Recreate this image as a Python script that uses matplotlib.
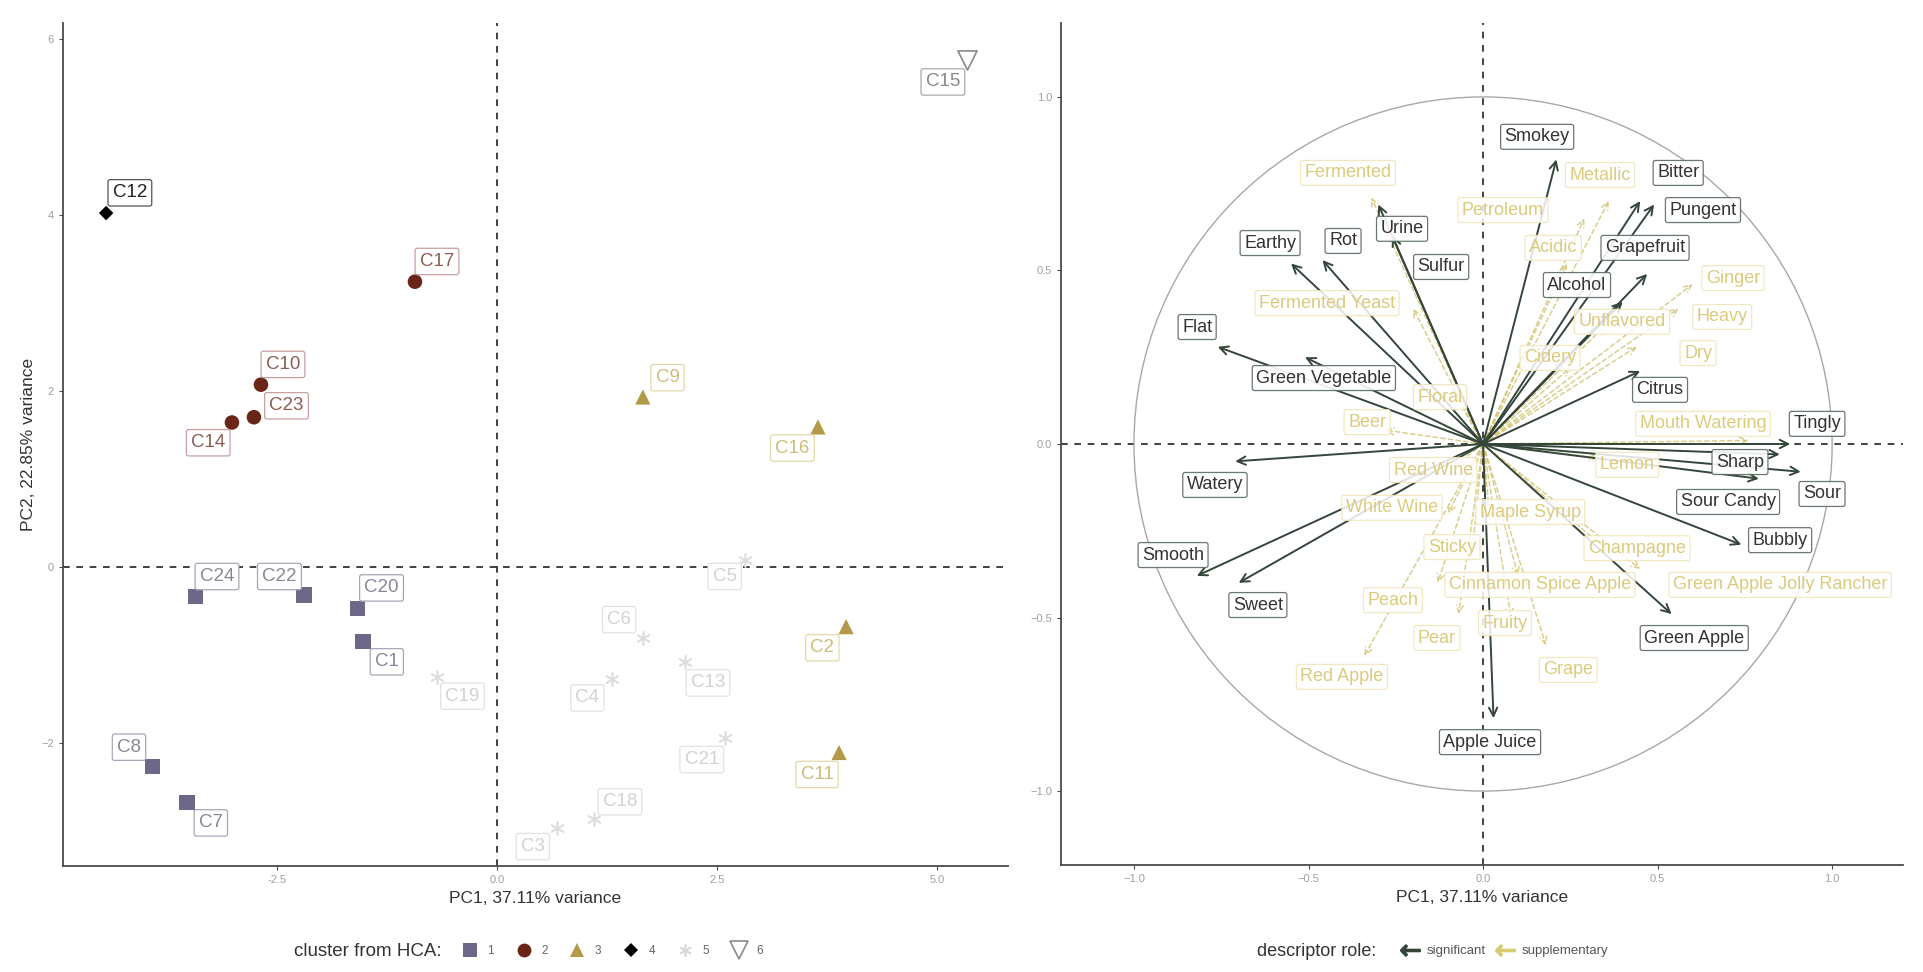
import matplotlib.pyplot as plt
import numpy as np
from matplotlib.lines import Line2D
from matplotlib.patches import Circle

plt.rcParams['font.family'] = ['Liberation Sans', 'DejaVu Sans']

# sample scores on PC1 / PC2 and HCA cluster membership
samples = ["C1", "C2", "C3", "C4", "C5", "C6", "C7", "C8", "C9", "C10", "C11", "C12",
           "C13", "C14", "C15", "C16", "C17", "C18", "C19", "C20", "C21", "C22", "C23", "C24"]
pc1 = [-1.52, 3.97, 0.69, 1.31, 2.82, 1.66, -3.52, -3.91, 1.66, -2.68, 3.89, -4.44,
       2.14, -3.01, 5.34, 3.65, -0.93, 1.11, -0.68, -1.58, 2.59, -2.19, -2.76, -3.42]
pc2 = [-0.85, -0.68, -2.97, -1.28, 0.08, -0.81, -2.68, -2.27, 1.93, 2.07, -2.11, 4.02,
       -1.08, 1.64, 5.76, 1.59, 3.24, -2.87, -1.25, -0.47, -1.94, -0.32, 1.70, -0.34]
cluster = [1, 3, 5, 5, 5, 5, 1, 1, 3, 2, 3, 4, 5, 2, 6, 3, 2, 5, 5, 1, 5, 1, 2, 1]

# descriptor loadings (correlation circle)
descriptors = ["Smokey", "Bitter", "Pungent", "Grapefruit", "Alcohol", "Citrus", "Tingly",
               "Sharp", "Sour", "Sour Candy", "Bubbly", "Green Apple", "Apple Juice", "Sweet",
               "Smooth", "Watery", "Flat", "Green Vegetable", "Earthy", "Rot", "Urine", "Sulfur",
               "Fermented", "Fermented Yeast", "Floral", "Beer", "Red Wine", "White Wine",
               "Maple Syrup", "Sticky", "Peach", "Red Apple", "Pear", "Fruity", "Grape",
               "Cinnamon Spice Apple", "Champagne", "Green Apple Jolly Rancher", "Lemon",
               "Mouth Watering", "Dry", "Heavy", "Ginger", "Unflavored", "Cidery", "Acidic",
               "Petroleum", "Metallic"]
dim1 = [0.21, 0.45, 0.49, 0.47, 0.40, 0.45, 0.88, 0.85, 0.91, 0.79, 0.74, 0.54, 0.03, -0.70,
        -0.82, -0.71, -0.76, -0.51, -0.55, -0.46, -0.30, -0.26,
        -0.32, -0.20, -0.09, -0.28, -0.08, -0.10, 0.02, -0.03, -0.13, -0.34, -0.07, 0.08, 0.18,
        0.10, 0.36, 0.45, 0.33, 0.76, 0.44, 0.56, 0.60, 0.37, 0.25, 0.24, 0.29, 0.36]
dim2 = [0.82, 0.70, 0.69, 0.49, 0.41, 0.21, 0.00, -0.03, -0.08, -0.10, -0.29, -0.49, -0.79,
        -0.40, -0.38, -0.05, 0.28, 0.25, 0.52, 0.53, 0.69, 0.60,
        0.71, 0.39, 0.16, 0.04, -0.06, -0.20, -0.22, -0.30, -0.40, -0.61, -0.49, -0.50, -0.58,
        -0.38, -0.31, -0.36, -0.04, 0.01, 0.28, 0.39, 0.46, 0.36, 0.22, 0.52, 0.65, 0.70]
role = ["significant"] * 22 + ["supplementary"] * 26

# repelled label positions
sample_lab = {"C1": (-1.25, -1.08), "C2": (3.70, -0.92), "C3": (0.41, -3.18), "C4": (1.03, -1.49),
              "C5": (2.59, -0.11), "C6": (1.39, -0.60), "C7": (-3.25, -2.91), "C8": (-4.18, -2.05),
              "C9": (1.94, 2.15), "C10": (-2.43, 2.30), "C11": (3.64, -2.36), "C12": (-4.17, 4.25),
              "C13": (2.40, -1.32), "C14": (-3.28, 1.41), "C15": (5.07, 5.51), "C16": (3.36, 1.35),
              "C17": (-0.68, 3.47), "C18": (1.40, -2.67), "C19": (-0.39, -1.47), "C20": (-1.31, -0.24),
              "C21": (2.33, -2.19), "C22": (-2.47, -0.11), "C23": (-2.39, 1.83), "C24": (-3.18, -0.11)}
desc_lab = {"Smokey": (0.155, 0.885), "Bitter": (0.559, 0.781), "Pungent": (0.630, 0.674),
            "Grapefruit": (0.464, 0.565), "Alcohol": (0.269, 0.458), "Citrus": (0.507, 0.156),
            "Tingly": (0.957, 0.058), "Sharp": (0.736, -0.052), "Sour": (0.971, -0.144),
            "Sour Candy": (0.702, -0.167), "Bubbly": (0.851, -0.277), "Green Apple": (0.605, -0.559),
            "Apple Juice": (0.02, -0.859), "Sweet": (-0.645, -0.464), "Smooth": (-0.888, -0.32),
            "Watery": (-0.768, -0.118), "Flat": (-0.819, 0.337), "Green Vegetable": (-0.456, 0.19),
            "Earthy": (-0.61, 0.579), "Rot": (-0.401, 0.585), "Urine": (-0.232, 0.62),
            "Sulfur": (-0.12, 0.51), "Fermented": (-0.387, 0.781), "Fermented Yeast": (-0.447, 0.406),
            "Floral": (-0.123, 0.135), "Beer": (-0.332, 0.063), "Red Wine": (-0.143, -0.075),
            "White Wine": (-0.261, -0.184), "Maple Syrup": (0.135, -0.196), "Sticky": (-0.089, -0.297),
            "Peach": (-0.258, -0.45), "Red Apple": (-0.404, -0.671), "Pear": (-0.132, -0.559),
            "Fruity": (0.063, -0.516), "Grape": (0.244, -0.651), "Cinnamon Spice Apple": (0.163, -0.406),
            "Champagne": (0.441, -0.30), "Green Apple Jolly Rancher": (0.851, -0.406),
            "Lemon": (0.413, -0.06), "Mouth Watering": (0.630, 0.058), "Dry": (0.616, 0.262),
            "Heavy": (0.685, 0.366), "Ginger": (0.716, 0.478), "Unflavored": (0.398, 0.352),
            "Cidery": (0.192, 0.248), "Acidic": (0.201, 0.565), "Petroleum": (0.057, 0.674),
            "Metallic": (0.335, 0.775)}

# cluster styling
cl_marker = {1: 's', 2: 'o', 3: '^', 4: 'D', 5: (6, 2, 0), 6: 'v'}
cl_size = {1: 120, 2: 110, 3: 120, 4: 55, 5: 90, 6: 190}
cl_color = {1: '#6e6788', 2: '#6a2519', 3: '#b39a48', 4: '#000000', 5: '#dedede', 6: 'white'}
cl_text = {1: '#8a8798', 2: '#8c5e55', 3: '#cdbd7a', 4: '#222222', 5: '#d2d2d2', 6: '#888888'}
cl_edge = {1: '#a9a6b6', 2: '#c9a0a0', 3: '#e3d9a8', 4: '#555555', 5: '#e2e2e2', 6: '#aaaaaa'}

fig = plt.figure(figsize=(19.23, 9.72), dpi=100)
ax1 = fig.add_axes([63 / 1923, 1 - 866 / 972, 945 / 1923, 843 / 972])
ax2 = fig.add_axes([1061 / 1923, 1 - 865 / 972, 842 / 1923, 842 / 972])

for ax in (ax1, ax2):
    for s in ('top', 'right'):
        ax.spines[s].set_visible(False)
    for s in ('left', 'bottom'):
        ax.spines[s].set_color('#4a4a4a')
        ax.spines[s].set_linewidth(1.3)
    ax.tick_params(length=3, color='#4a4a4a', labelsize=8, labelcolor='#a0a0a0')
    ax.axhline(0, color='#222222', ls=(0, (4, 4)), lw=1.2, zorder=1)
    ax.axvline(0, color='#222222', ls=(0, (4, 4)), lw=1.2, zorder=1)

# --- individuals map
pc1 = np.array(pc1)
pc2 = np.array(pc2)
cluster = np.array(cluster)
for k in range(1, 7):
    m = cluster == k
    ax1.scatter(pc1[m], pc2[m], marker=cl_marker[k], s=cl_size[k], c=cl_color[k],
                edgecolors='#8a8a8a' if k == 6 else ('#d8d8d8' if k == 5 else 'none'),
                linewidths=1.2 if k in (5, 6) else 0, zorder=3)
for name, k in zip(samples, cluster):
    lx, ly = sample_lab[name]
    ax1.text(lx, ly, name, ha='center', va='center', fontsize=13.5, color=cl_text[k], zorder=4,
             bbox=dict(boxstyle='round,pad=0.25,rounding_size=0.12', fc='white', ec=cl_edge[k], lw=0.9))

ax1.set_xlim(-4.93, 5.81)
ax1.set_ylim(-3.40, 6.18)
ax1.set_xticks([-2.5, 0.0, 2.5, 5.0])
ax1.set_xticklabels(['-2.5', '0.0', '2.5', '5.0'])
ax1.set_yticks([-2, 0, 2, 4, 6])
ax1.set_xlabel('PC1, 37.11% variance', fontsize=12.5, color='#333333', labelpad=4)
ax1.set_ylabel('PC2, 22.85% variance', fontsize=12.5, color='#333333', labelpad=4)

# --- correlation circle
ax2.add_patch(Circle((0, 0), 1.0, fill=False, ec='#a8a8a8', lw=1.0, zorder=1))
for name, x, y, r in zip(descriptors, dim1, dim2, role):
    if r == 'significant':
        props = dict(arrowstyle='->,head_length=0.6,head_width=0.3', color='#34453a', lw=1.4,
                     shrinkA=0, shrinkB=0)
        z = 3
    else:
        props = dict(arrowstyle='->,head_length=0.5,head_width=0.25', color='#cfc066', lw=1.1,
                     ls=(0, (3, 2)), alpha=0.75, shrinkA=0, shrinkB=0)
        z = 2
    ax2.annotate('', xy=(x, y), xytext=(0, 0), arrowprops=props, zorder=z)
for name, r in zip(descriptors, role):
    lx, ly = desc_lab[name]
    if r == 'significant':
        ax2.text(lx, ly, name, ha='center', va='center', fontsize=13, color='#333333', zorder=6,
                 bbox=dict(boxstyle='round,pad=0.22,rounding_size=0.12', fc='white', ec='#5a6a60',
                           lw=0.9, alpha=0.9))
    else:
        ax2.text(lx, ly, name, ha='center', va='center', fontsize=13, color='#dccb7c', zorder=5,
                 bbox=dict(boxstyle='round,pad=0.22,rounding_size=0.12', fc='white', ec='#efe5b8',
                           lw=0.9, alpha=0.85))

ax2.set_xlim(-1.209, 1.203)
ax2.set_ylim(-1.213, 1.213)
ax2.set_xticks([-1.0, -0.5, 0.0, 0.5, 1.0])
ax2.set_yticks([-1.0, -0.5, 0.0, 0.5, 1.0])
ax2.set_xlabel('PC1, 37.11% variance', fontsize=12.5, color='#333333', labelpad=4)

# --- legends
fig.text(294 / 1923, 1 - 951 / 972, 'cluster from HCA:', fontsize=13.5, color='#333333', va='center')
handles = [Line2D([], [], ls='', marker=cl_marker[k], ms=np.sqrt(cl_size[k]) * 0.95,
                  mfc=cl_color[k], mec='#8a8a8a' if k == 6 else ('#d8d8d8' if k == 5 else cl_color[k]),
                  mew=1.2 if k in (5, 6) else 0) for k in range(1, 7)]
fig.legend(handles, ['1', '2', '3', '4', '5', '6'], loc='center left', ncol=6,
           bbox_to_anchor=(452 / 1923, 1 - 951 / 972), frameon=False, fontsize=8.5,
           labelcolor='#666666', handletextpad=0.9, columnspacing=1.9, handlelength=1.2)

fig.text(1257 / 1923, 1 - 951 / 972, 'descriptor role:', fontsize=13, color='#333333', va='center')
role_handles = [Line2D([], [], ls='', marker=r'$\leftarrow$', ms=14, color='#34453a'),
                Line2D([], [], ls='', marker=r'$\leftarrow$', ms=14, color='#d8cc70')]
fig.legend(role_handles, ['significant', 'supplementary'], loc='center left', ncol=2,
           bbox_to_anchor=(1390 / 1923, 1 - 951 / 972), frameon=False, fontsize=9.5,
           labelcolor='#555555', handletextpad=0.6, columnspacing=0.8, handlelength=1.3)

fig.savefig('out.png', dpi=100, facecolor='white')
